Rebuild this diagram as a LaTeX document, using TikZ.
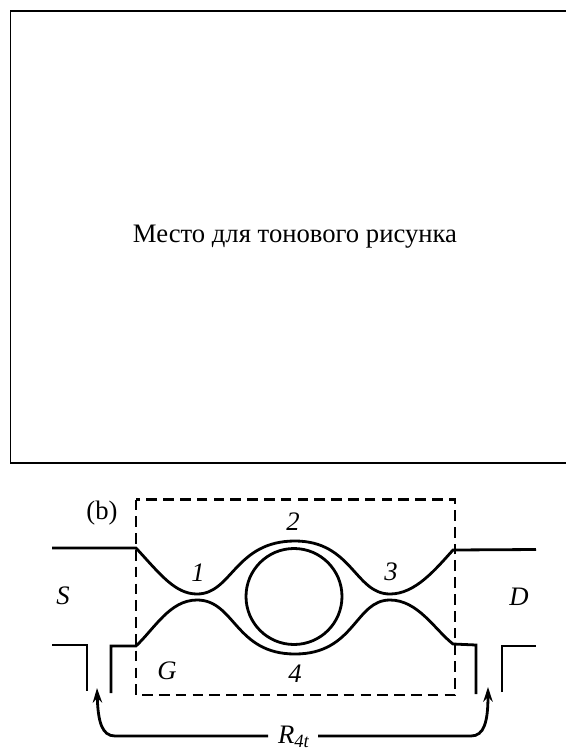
\documentclass[tikz,border=0pt]{standalone}
\usepackage{fontspec}
\setmainfont{Liberation Serif}
\usetikzlibrary{arrows.meta}
\tikzset{
  lbl/.style={font=\fontsize{20}{22}\selectfont\itshape,inner sep=0pt},
  plain lbl/.style={font=\fontsize{20}{22}\selectfont,inner sep=0pt},
  wire/.style={line width=2.1pt,line join=miter},
  frame/.style={line width=2.1pt,dash pattern=on 8pt off 4.6pt},
  rarrow/.style={line width=2.1pt,-{Stealth[length=11pt,width=7pt]}}
}
\begin{document}
\begin{tikzpicture}[x=0.75pt,y=-0.75pt]
\useasboundingbox (0,0) rectangle (566,751);
% top panel, open on the right
\draw[line width=1.2pt] (566,11) -- (10.5,11) -- (10.5,463) -- (566,463);
\node[plain lbl] (panel) at (295,237) {Место для тонового рисунка};
% gate region
\draw[frame] (136,499.5) rectangle (455,695);
\node[plain lbl] (b) at (102,513) {(b)};
% contacts and channel edges
\draw[wire] (52,548) -- (136,548) .. controls (160,574) and (175,594) .. (197,594)
  .. controls (232,594) and (235,541) .. (295,541)
  .. controls (352,541) and (355,594) .. (390,594)
  .. controls (415,594) and (435,570) .. (453,550) -- (536,549.5);
\draw[wire] (52,645) -- (87,645) -- (87,691);
\draw[wire] (111,693) -- (111,646) -- (136,646) .. controls (155,628) and (170,600) .. (197,600)
  .. controls (235,600) and (235,654) .. (295,654)
  .. controls (355,654) and (355,600) .. (390,600)
  .. controls (418,600) and (435,630) .. (453,644) -- (476,645) -- (476,694);
\draw[wire] (502,692) -- (502,646) -- (536,646);
\node[draw,circle,line width=2.1pt,minimum size=72pt,inner sep=0pt] (dot) at (294,596.5) {};
% labels
\node[lbl] (s) at (63,596) {S};
\node[lbl] (d) at (519,597) {D};
\node[lbl] (g) at (167,671) {G};
\node[lbl] (one) at (198,573) {1};
\node[lbl] (two) at (293,522) {2};
\node[lbl] (three) at (391,572) {3};
\node[lbl] (four) at (295,674) {4};
% measured resistance
\node[plain lbl,anchor=base] (r) at (294,743.5) {\textit{R}\textsubscript{\textit{4t}}};
\coordinate (rleft) at (268,736);
\coordinate (rright) at (318,736);
\coordinate (sgap) at (97,688);
\coordinate (dgap) at (488,687);
\draw[rarrow] (rleft) -- (115,736) .. controls (102,736) and (98,722) .. (sgap);
\draw[rarrow] (rright) -- (471,736) .. controls (484,736) and (488,722) .. (dgap);
\end{tikzpicture}
\end{document}
